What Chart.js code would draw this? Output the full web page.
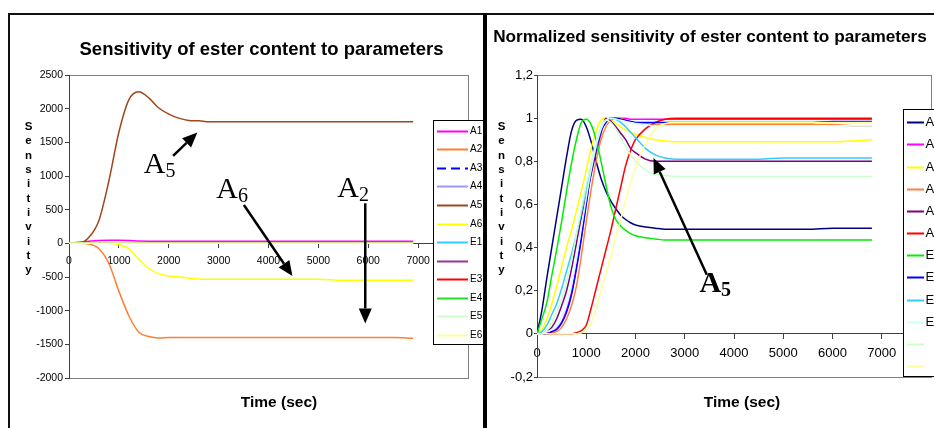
<!DOCTYPE html>
<html>
<head>
<meta charset="utf-8">
<script src="https://cdn.jsdelivr.net/npm/chart.js@4.4.1/dist/chart.umd.min.js"></script>
<style>
  html, body { margin: 0; padding: 0; background: #fff; overflow: hidden; }
  body { width: 934px; height: 428px; position: relative; }
  canvas { position: absolute; }
  .line { position: absolute; background: #111; z-index: 3; }
</style>
</head>
<body>
<div class="line" style="left:8px;top:13px;width:2px;height:420px"></div>
<div class="line" style="left:8px;top:13px;width:476px;height:2px"></div>
<div class="line" style="left:483px;top:13px;width:4px;height:420px;background:#000"></div>
<div class="line" style="left:487px;top:13px;width:447px;height:2px"></div>
<canvas id="chartL" width="473" height="413" style="left:10px;top:15px"></canvas>
<canvas id="chartR" width="451" height="413" style="left:487px;top:15px"></canvas>
<script>
// ---- left chart: sensitivity (absolute) ----
const timeL = [0, 200, 400, 600, 800, 1000, 1200, 1400, 1600, 1800, 2000, 2200, 2400, 2600, 2800, 3000, 3500, 4000, 4500, 5000, 5500, 6000, 6500, 6900];
const sensA1 = [0, 18, 32, 42, 45, 45, 42, 34, 32, 32, 32, 32, 32, 32, 32, 32, 32, 32, 32, 32, 32, 32, 32, 32];
const sensA2 = [0, 0, -10, -80, -300, -710, -1075, -1320, -1385, -1405, -1400, -1400, -1400, -1400, -1400, -1400, -1400, -1400, -1400, -1400, -1400, -1400, -1400, -1410];
const sensA5 = [0, 0, 90, 340, 930, 1650, 2130, 2250, 2160, 2010, 1920, 1860, 1825, 1820, 1805, 1805, 1805, 1805, 1805, 1805, 1805, 1805, 1805, 1805];
const sensA6 = [0, 0, 0, 0, 0, -20, -80, -240, -370, -450, -485, -495, -515, -530, -535, -535, -535, -535, -535, -535, -550, -550, -550, -550];
const sensZero = [0, 0, 0, 0, 0, 0, 0, 0, 0, 0, 0, 0, 0, 0, 0, 0, 0, 0, 0, 0, 0, 0, 0, 0];

// ---- right chart: normalized sensitivity ----
const timeR = [0, 100, 200, 300, 400, 500, 600, 700, 800, 900, 1000, 1100, 1200, 1300, 1400, 1500, 1600, 1700, 1800, 1900, 2000, 2200, 2400, 2600, 2800, 3000, 3500, 4000, 4500, 5000, 5500, 6000, 6500, 6800];
const normA1 = [0, 0.11, 0.26, 0.4, 0.54, 0.68, 0.82, 0.94, 0.99, 0.995, 0.96, 0.89, 0.8, 0.72, 0.66, 0.615, 0.58, 0.55, 0.53, 0.515, 0.505, 0.495, 0.49, 0.485, 0.485, 0.485, 0.485, 0.485, 0.485, 0.485, 0.485, 0.49, 0.49, 0.49];
const normA2 = [0, 0, 0.005, 0.01, 0.025, 0.055, 0.11, 0.19, 0.31, 0.45, 0.61, 0.76, 0.87, 0.95, 0.99, 1, 1, 1, 1, 0.995, 0.995, 0.995, 0.995, 0.995, 0.995, 0.995, 0.995, 0.995, 0.995, 0.995, 0.995, 0.995, 0.995, 0.995];
const normA3 = [0, 0.02, 0.07, 0.14, 0.22, 0.31, 0.4, 0.48, 0.57, 0.66, 0.76, 0.86, 0.94, 0.99, 1, 0.99, 0.975, 0.96, 0.945, 0.935, 0.925, 0.91, 0.9, 0.895, 0.89, 0.89, 0.89, 0.89, 0.89, 0.89, 0.89, 0.89, 0.895, 0.9];
const normA4 = [0, 0, 0, 0.005, 0.01, 0.03, 0.07, 0.13, 0.22, 0.36, 0.52, 0.67, 0.8, 0.9, 0.96, 0.99, 1, 1, 0.99, 0.985, 0.98, 0.975, 0.97, 0.97, 0.97, 0.97, 0.97, 0.97, 0.97, 0.97, 0.97, 0.97, 0.965, 0.965];
const normA5 = [0, 0, 0.01, 0.03, 0.07, 0.13, 0.2, 0.3, 0.42, 0.54, 0.64, 0.74, 0.84, 0.93, 1, 0.985, 0.96, 0.93, 0.9, 0.86, 0.84, 0.81, 0.8, 0.8, 0.8, 0.8, 0.8, 0.8, 0.8, 0.8, 0.8, 0.8, 0.8, 0.8];
const normA6 = [0, 0, 0, 0, 0, 0, 0, 0, 0.005, 0.015, 0.04, 0.12, 0.21, 0.3, 0.39, 0.48, 0.58, 0.68, 0.78, 0.85, 0.9, 0.95, 0.98, 0.995, 1, 1, 1, 1, 1, 1, 1, 1, 1, 1];
const normE1 = [0, 0.07, 0.145, 0.27, 0.39, 0.52, 0.66, 0.79, 0.9, 0.98, 0.995, 0.97, 0.9, 0.8, 0.69, 0.59, 0.53, 0.5, 0.48, 0.465, 0.455, 0.445, 0.44, 0.435, 0.435, 0.435, 0.435, 0.435, 0.435, 0.435, 0.435, 0.435, 0.435, 0.435];
const normE2 = [0, 0, 0, 0.01, 0.02, 0.05, 0.1, 0.18, 0.3, 0.44, 0.6, 0.75, 0.86, 0.94, 0.98, 1, 1, 0.995, 0.99, 0.985, 0.98, 0.98, 0.98, 0.98, 0.98, 0.98, 0.98, 0.98, 0.98, 0.98, 0.98, 0.985, 0.985, 0.985];
const normE3 = [0, 0.01, 0.04, 0.09, 0.14, 0.21, 0.29, 0.37, 0.46, 0.56, 0.67, 0.77, 0.87, 0.95, 0.99, 1, 0.995, 0.98, 0.96, 0.935, 0.91, 0.86, 0.83, 0.815, 0.81, 0.81, 0.81, 0.81, 0.81, 0.815, 0.815, 0.815, 0.815, 0.815];
const normE4 = [0, 0, 0.01, 0.02, 0.04, 0.08, 0.14, 0.23, 0.35, 0.49, 0.63, 0.76, 0.87, 0.95, 0.99, 1, 0.995, 0.99, 0.985, 0.98, 0.975, 0.97, 0.965, 0.965, 0.965, 0.965, 0.965, 0.965, 0.965, 0.965, 0.965, 0.965, 0.965, 0.965];
const normE5 = [0, 0, 0.02, 0.05, 0.1, 0.16, 0.24, 0.34, 0.46, 0.58, 0.69, 0.79, 0.89, 0.96, 0.99, 0.98, 0.95, 0.91, 0.87, 0.83, 0.8, 0.76, 0.74, 0.735, 0.73, 0.73, 0.73, 0.73, 0.73, 0.73, 0.73, 0.73, 0.73, 0.73];
const normE6 = [0, 0, 0, 0, 0, 0, 0, 0, 0, 0.005, 0.02, 0.05, 0.12, 0.2, 0.28, 0.36, 0.45, 0.53, 0.62, 0.7, 0.77, 0.88, 0.95, 0.975, 0.98, 0.98, 0.98, 0.98, 0.98, 0.98, 0.98, 0.98, 0.98, 0.98];

// annotations, in data units (label, subscript, text anchor, arrow from -> to)
const notesL = [
  { label: 'A', sub: '5', at: [1500, 1050], from: [2087, 1299], to: [2574, 1646] },
  { label: 'A', sub: '6', at: [2953, 670], from: [3507, 570], to: [4480, -487] },
  { label: 'A', sub: '2', at: [5380, 693], from: [5940, 595], to: [5940, -1190] }
];
const notesR = [
  { label: 'A', sub: '5', at: [3298, 0.196], from: [3448, 0.274], to: [2365, 0.815], bold: true }
];

const SANS = "'Liberation Sans', Arial, sans-serif";
const SERIF = "'Liberation Serif', 'Times New Roman', serif";

// Excel paints later series on top; Chart.js paints higher `order` first
function lineSet(label, values, color, idx, extra) {
  return Object.assign({
    label: label,
    data: values,
    borderColor: color,
    backgroundColor: color,
    borderWidth: 1.5,
    pointRadius: 0,
    fill: false,
    order: 20 - idx,
    cubicInterpolationMode: 'monotone'
  }, extra || {});
}

function arrow(ctx, x0, y0, x1, y1) {
  const ang = Math.atan2(y1 - y0, x1 - x0);
  const len = 15, half = 6.5;
  const bx = x1 - len * Math.cos(ang), by = y1 - len * Math.sin(ang);
  ctx.beginPath();
  ctx.moveTo(x0, y0);
  ctx.lineTo(bx, by);
  ctx.stroke();
  ctx.beginPath();
  ctx.moveTo(x1, y1);
  ctx.lineTo(bx + half * Math.sin(ang), by - half * Math.cos(ang));
  ctx.lineTo(bx - half * Math.sin(ang), by + half * Math.cos(ang));
  ctx.closePath();
  ctx.fill();
}

// plot area border (grey, like Excel)
const plotFrame = {
  id: 'plotFrame',
  beforeDraw(chart) {
    const { left, top, right, bottom } = chart.chartArea;
    const ctx = chart.ctx;
    ctx.save();
    ctx.strokeStyle = '#808080';
    ctx.lineWidth = 1;
    ctx.strokeRect(Math.round(left) + 0.5, Math.round(top) + 0.5, Math.round(right - left), Math.round(bottom - top));
    ctx.restore();
  }
};

// titles, stacked y title, annotations and the Excel-style legend
const decor = {
  id: 'decor',
  afterDraw(chart, args, o) {
    const ctx = chart.ctx;
    const xs = chart.scales.x, ys = chart.scales.y;
    const px = p => [xs.getPixelForValue(p[0]), ys.getPixelForValue(p[1])];
    ctx.save();
    ctx.fillStyle = '#000';
    ctx.textAlign = 'center';
    ctx.textBaseline = 'alphabetic';
    ctx.font = 'bold ' + o.title.size + 'px ' + SANS;
    ctx.fillText(o.title.text, o.title.x, o.title.y);
    ctx.font = 'bold 15.5px ' + SANS;
    ctx.fillText(o.xTitle.text, o.xTitle.x, o.xTitle.y);
    ctx.font = 'bold 11.5px ' + SANS;
    ctx.textBaseline = 'middle';
    Array.from(o.yTitle.text).forEach((ch, i) => ctx.fillText(ch, o.yTitle.x, o.yTitle.y + i * o.yTitle.step));

    // annotations
    ctx.strokeStyle = '#000';
    ctx.lineWidth = 2.5;
    ctx.textAlign = 'left';
    ctx.textBaseline = 'alphabetic';
    o.notes.forEach(n => {
      const [tx, ty] = px(n.at);
      ctx.font = (n.bold ? 'bold ' : '') + '30px ' + SERIF;
      ctx.fillText(n.label, tx, ty);
      const w = ctx.measureText(n.label).width;
      ctx.font = (n.bold ? 'bold ' : '') + '20px ' + SERIF;
      ctx.fillText(n.sub, tx + w, ty + 4);
      const [x0, y0] = px(n.from), [x1, y1] = px(n.to);
      arrow(ctx, x0, y0, x1, y1);
    });

    // legend
    const lg = o.legend;
    ctx.fillStyle = '#fff';
    ctx.fillRect(lg.x, lg.y, lg.w, lg.h);
    ctx.strokeStyle = '#000';
    ctx.lineWidth = 1;
    ctx.strokeRect(lg.x + 0.5, lg.y + 0.5, lg.w, lg.h);
    ctx.font = lg.size + 'px ' + SANS;
    ctx.textBaseline = 'middle';
    chart.data.datasets.forEach((ds, i) => {
      const y = Math.round(lg.first + i * lg.step) + 0.5;
      ctx.strokeStyle = ds.borderColor;
      ctx.lineWidth = 2;
      ctx.setLineDash(ds.borderDash ? [9, 5] : []);
      ctx.beginPath();
      ctx.moveTo(lg.s0, y);
      ctx.lineTo(lg.s1, y);
      ctx.stroke();
      ctx.setLineDash([]);
      ctx.fillStyle = '#000';
      ctx.fillText(ds.label, lg.tx, y);
    });
    ctx.restore();
  }
};

const tickFont = size => ({ family: SANS, size: size });

new Chart(document.getElementById('chartL'), {
  type: 'line',
  data: {
    labels: timeL,
    datasets: [
      lineSet('A1', sensA1, '#FF00FF', 0),
      lineSet('A2', sensA2, '#FF7F30', 1),
      lineSet('A3', sensZero, '#0000FF', 2, { borderDash: [8, 5] }),
      lineSet('A4', sensZero, '#9999FF', 3),
      lineSet('A5', sensA5, '#A0461C', 4),
      lineSet('A6', sensA6, '#FFFF00', 5),
      lineSet('E1', sensZero, '#33CCFF', 6),
      lineSet('', sensZero, '#993399', 7),
      lineSet('E3', sensZero, '#FF0000', 8),
      lineSet('E4', sensZero, '#22DD22', 9),
      lineSet('E5', sensZero, '#CCFFCC', 10),
      lineSet('E6', sensZero, '#FFFF99', 11)
    ]
  },
  options: {
    responsive: false,
    animation: false,
    devicePixelRatio: 1,
    layout: { padding: { top: 60, right: 15, bottom: 50, left: 0 } },
    scales: {
      x: {
        type: 'linear', min: 0, max: 8000, position: { y: 0 },
        border: { color: '#404040' },
        grid: { drawOnChartArea: false, tickLength: 4, color: '#404040' },
        ticks: { stepSize: 1000, autoSkip: false, maxRotation: 0, padding: 7, color: '#000', font: tickFont(10.5),
          callback: v => (v === 8000 ? '' : String(v)) }
      },
      y: {
        min: -2000, max: 2500,
        afterFit: s => { s.width = 59; },
        border: { color: '#404040' },
        grid: { drawOnChartArea: false, tickLength: 4, color: '#404040' },
        ticks: { stepSize: 500, padding: 2, color: '#000', font: tickFont(10.5), callback: v => String(v) }
      }
    },
    plugins: {
      legend: { display: false },
      tooltip: { enabled: false },
      decor: {
        title: { text: 'Sensitivity of ester content to parameters', x: 251.5, y: 40, size: 18.5 },
        xTitle: { text: 'Time (sec)', x: 269, y: 392 },
        yTitle: { text: 'Sensitivity', x: 18.5, y: 112, step: 14.3 },
        notes: notesL,
        legend: { x: 423, y: 105, w: 70, h: 224, s0: 427, s1: 458, tx: 460, first: 115.7, step: 18.57, size: 10 }
      }
    }
  },
  plugins: [plotFrame, decor]
});

new Chart(document.getElementById('chartR'), {
  type: 'line',
  data: {
    labels: timeR,
    datasets: [
      lineSet('A1', normA1, '#000080', 0),
      lineSet('A2', normA2, '#FF00FF', 1),
      lineSet('A3', normA3, '#FFFF00', 2),
      lineSet('A4', normA4, '#FF8040', 3),
      lineSet('A5', normA5, '#800080', 4),
      lineSet('A6', normA6, '#FF0000', 5),
      lineSet('E1', normE1, '#00EE00', 6),
      lineSet('E2', normE2, '#0000FF', 7),
      lineSet('E3', normE3, '#33CCFF', 8),
      lineSet('E4', normE4, '#CCFFFF', 9),
      lineSet('', normE5, '#CCFFCC', 10),
      lineSet('', normE6, '#FFFF99', 11)
    ]
  },
  options: {
    responsive: false,
    animation: false,
    devicePixelRatio: 1,
    layout: { padding: { top: 60, right: 7, bottom: 51, left: 0 } },
    scales: {
      x: {
        type: 'linear', min: 0, max: 8000, position: { y: 0 },
        border: { color: '#404040' },
        grid: { drawOnChartArea: false, tickLength: 5, color: '#404040' },
        ticks: { stepSize: 1000, autoSkip: false, maxRotation: 0, padding: 7, color: '#000', font: tickFont(13),
          callback: v => (v === 8000 ? '' : String(v)) }
      },
      y: {
        min: -0.2, max: 1.2,
        afterFit: s => { s.width = 50; },
        border: { color: '#404040' },
        grid: { drawOnChartArea: false, tickLength: 3, color: '#404040' },
        ticks: { stepSize: 0.2, padding: 1, color: '#000', font: tickFont(13),
          callback: v => String(Math.round(v * 10) / 10).replace('.', ',') }
      }
    },
    plugins: {
      legend: { display: false },
      tooltip: { enabled: false },
      decor: {
        title: { text: 'Normalized sensitivity of ester content to parameters', x: 223, y: 26.7, size: 17.2 },
        xTitle: { text: 'Time (sec)', x: 255, y: 392 },
        yTitle: { text: 'Sensitivity', x: 14.5, y: 112, step: 14.3 },
        notes: notesR,
        legend: { x: 416, y: 94, w: 60, h: 267, s0: 420, s1: 437, tx: 438.5, first: 107.3, step: 22.15, size: 13 }
      }
    }
  },
  plugins: [plotFrame, decor]
});
</script>
</body>
</html>
